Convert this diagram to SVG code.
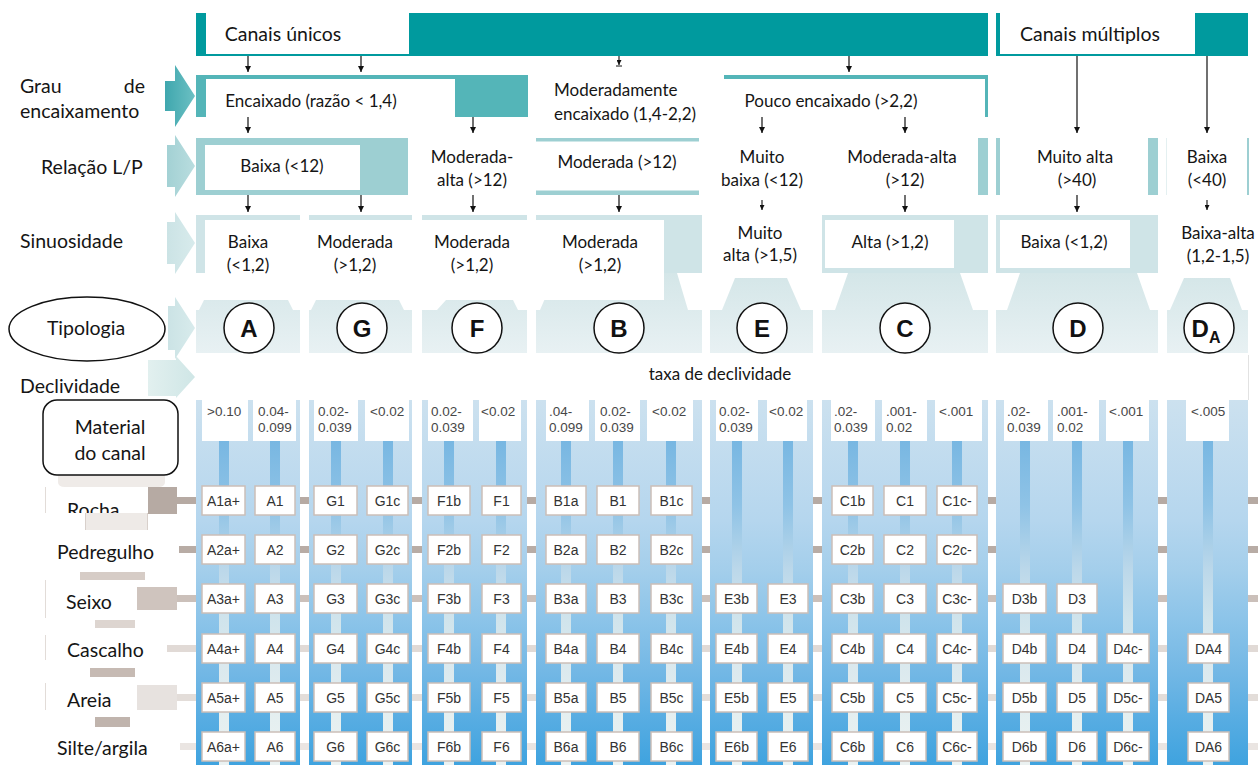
<svg xmlns="http://www.w3.org/2000/svg" width="1258" height="765" viewBox="0 0 1258 765">
<style>
  .t{font-family:Lato,"Liberation Sans",sans-serif;fill:#151515}
  .lbl{font-size:19.5px}
  .cell{font-size:17px}
  .mid{text-anchor:middle}
  .end{text-anchor:end}
  .teal{fill:#009a9e}
  .teal2{fill:#54b5b8}
  .teal3{fill:#9dcfd2}
  .band{fill:#cfe4e7}
  .wh{fill:#fff}
  .funnel{fill:url(#tipoGrad)}
  .panel{fill:url(#blueGrad)}
  .bar{fill:url(#barGrad)}
  .sb{fill:#fff}
  .slope{font-family:"Liberation Sans",Arial,sans-serif;font-size:13.5px;fill:#474747}
  .box{fill:#fff;stroke:#cbbfb8;stroke-width:1.5}
  .code{font-family:"Liberation Sans",Arial,sans-serif;font-size:14px;fill:#333;text-anchor:middle}
  .circ{fill:#fff;stroke:#111;stroke-width:1.5}
  .letter{font-family:"Liberation Sans",Arial,sans-serif;font-weight:bold;font-size:24px;fill:#111;text-anchor:middle}
  .arr{stroke:#111;stroke-width:1.2;fill:none;marker-end:url(#ah)}
  .arrs{stroke:#111;stroke-width:1.1;fill:none;marker-end:url(#ahs)}
  .mat{fill:#fff}
</style>
<defs>
  <marker id="ah" viewBox="0 0 10 10" refX="10" refY="5" markerUnits="userSpaceOnUse" markerWidth="7" markerHeight="6" orient="auto">
    <path d="M0,0 L10,5 L0,10 z" fill="#111"/>
  </marker>
  <marker id="ahs" viewBox="0 0 10 10" refX="10" refY="5" markerUnits="userSpaceOnUse" markerWidth="5" markerHeight="5" orient="auto">
    <path d="M0,0 L10,5 L0,10 z" fill="#111"/>
  </marker>
  <linearGradient id="blueGrad" gradientUnits="userSpaceOnUse" x1="0" y1="400" x2="0" y2="765">
    <stop offset="0" stop-color="#cce1ef"/>
    <stop offset="0.33" stop-color="#b5d6ee"/>
    <stop offset="0.47" stop-color="#a3ceeb"/>
    <stop offset="0.6" stop-color="#8cc4e9"/>
    <stop offset="0.74" stop-color="#74b8e5"/>
    <stop offset="0.88" stop-color="#56ace2"/>
    <stop offset="1" stop-color="#3fa3df"/>
  </linearGradient>
  <linearGradient id="barGrad" gradientUnits="userSpaceOnUse" x1="0" y1="441" x2="0" y2="765">
    <stop offset="0" stop-color="#78b7e2"/>
    <stop offset="0.2" stop-color="#8fc3e6"/>
    <stop offset="0.4" stop-color="#bcd8ea"/>
    <stop offset="0.55" stop-color="#d0e4ec"/>
    <stop offset="0.7" stop-color="#dbe9ee"/>
    <stop offset="0.86" stop-color="#e5eff0"/>
    <stop offset="1" stop-color="#ebf2f2"/>
  </linearGradient>
  <linearGradient id="tipoGrad" gradientUnits="userSpaceOnUse" x1="0" y1="273" x2="0" y2="353">
    <stop offset="0" stop-color="#d4e6e8"/>
    <stop offset="1" stop-color="#e8f1f3"/>
  </linearGradient>
  <linearGradient id="chev1" x1="0" y1="0" x2="1" y2="0">
    <stop offset="0" stop-color="#3fa7ae"/>
    <stop offset="1" stop-color="#6cc0c3"/>
  </linearGradient>
  <linearGradient id="chev2" x1="0" y1="0" x2="1" y2="0">
    <stop offset="0" stop-color="#a3d1d4"/>
    <stop offset="1" stop-color="#b9dddf"/>
  </linearGradient>
  <linearGradient id="chev3" x1="0" y1="0" x2="1" y2="0">
    <stop offset="0" stop-color="#cbe3e5"/>
    <stop offset="1" stop-color="#d8ebec"/>
  </linearGradient>
  <linearGradient id="chev4" x1="0" y1="0" x2="1" y2="0">
    <stop offset="0" stop-color="#e2f0ef"/>
    <stop offset="1" stop-color="#cfe6e6"/>
  </linearGradient>
  <clipPath id="clipRocha"><rect x="40" y="480" width="140" height="33"/></clipPath>
  <clipPath id="clipPedr"><rect x="40" y="530" width="145" height="32"/></clipPath>
</defs>

<rect x="0" y="0" width="1258" height="765" fill="#fff"/>

<!-- material rows: horizontal connectors running behind the columns -->
<g id="connectors">
  <rect x="177" y="497" width="1081" height="7" fill="#b6aaa3"/>
  <rect x="179" y="546" width="1079" height="7" fill="#b8aca5"/>
  <rect x="177" y="595" width="1081" height="7" fill="#cbc0ba"/>
  <rect x="167" y="645" width="1091" height="7" fill="#e1dad6"/>
  <rect x="177" y="694" width="1081" height="7" fill="#e3ddd9"/>
  <rect x="180" y="743" width="1078" height="7" fill="#eae5e2"/>
</g>

<!-- sinuosity bands and typology funnels -->
<g id="bands">
  <rect class="band" x="196" y="215" width="104" height="58"/>
  <rect class="band" x="309" y="215" width="103" height="58"/>
  <rect class="band" x="422" y="215" width="105" height="58"/>
  <rect class="band" x="536" y="215" width="166" height="58"/>
  <rect class="band" x="822" y="215" width="166" height="58"/>
  <rect class="band" x="996" y="215" width="162" height="58"/>
  <polygon class="funnel" points="196,353 196,310 199,310 204,300 288,300 293,310 300,310 300,353"/>
  <polygon class="funnel" points="309,353 309,310 311,310 316,300 399,300 404,310 412,310 412,353"/>
  <polygon class="funnel" points="422,353 422,310 437,310 446,300 513,300 518,310 527,310 527,353"/>
  <polygon class="funnel" points="536,353 536,310 540,310 556,273 677,273 688,310 702,310 702,353"/>
  <polygon class="funnel" points="710,353 710,310 722,310 735,278 787,278 801,310 813,310 813,353"/>
  <polygon class="funnel" points="822,353 822,310 835,310 848,273 960,273 973,310 988,310 988,353"/>
  <polygon class="funnel" points="996,353 996,310 1007,310 1020,273 1137,273 1150,310 1158,310 1158,353"/>
  <polygon class="funnel" points="1167,353 1167,310 1170,310 1184,278 1230,278 1242,310 1248,310 1248,353"/>
</g>

<!-- sinuosity cells -->
<g id="sinuosidade">
  <rect class="wh" x="205" y="220" width="459" height="80"/>
  <rect class="wh" x="825" y="220" width="129" height="48"/>
  <rect class="wh" x="1000" y="220" width="130" height="48"/>
  <text class="t cell mid" x="248" y="248">Baixa</text>
  <text class="t cell mid" x="248" y="271">(&lt;1,2)</text>
  <text class="t cell mid" x="355" y="248">Moderada</text>
  <text class="t cell mid" x="355" y="271">(&gt;1,2)</text>
  <text class="t cell mid" x="472" y="248">Moderada</text>
  <text class="t cell mid" x="472" y="271">(&gt;1,2)</text>
  <text class="t cell mid" x="600" y="248">Moderada</text>
  <text class="t cell mid" x="600" y="271">(&gt;1,2)</text>
  <text class="t cell mid" x="760" y="239">Muito</text>
  <text class="t cell mid" x="760" y="261">alta (&gt;1,5)</text>
  <text class="t cell mid" x="890" y="248">Alta (&gt;1,2)</text>
  <text class="t cell mid" x="1064" y="248">Baixa (&lt;1,2)</text>
  <text class="t cell mid" x="1218" y="239">Baixa-alta</text>
  <text class="t cell mid" x="1218" y="262">(1,2-1,5)</text>
</g>

<!-- header: channel type -->
<g id="canais-unicos">
  <rect class="teal" x="196" y="13" width="792" height="43"/>
  <rect class="wh" x="206" y="13" width="203" height="41"/>
  <text class="t mid" x="283" y="41" font-size="19.5">Canais únicos</text>
</g>
<g id="canais-multiplos">
  <rect class="teal" x="996" y="13" width="252" height="43"/>
  <rect class="wh" x="1000" y="13" width="195" height="41"/>
  <text class="t mid" x="1090" y="41" font-size="19.5">Canais múltiplos</text>
</g>

<!-- entrenchment -->
<g id="encaixado">
  <rect class="teal2" x="196" y="75" width="332" height="42"/>
  <rect class="wh" x="206" y="79" width="249" height="38"/>
  <text class="t cell mid" x="311" y="107">Encaixado (razão &lt; 1,4)</text>
</g>
<g id="moderadamente-encaixado">
  <text class="t cell" x="554" y="96">Moderadamente</text>
  <text class="t cell" x="554" y="120">encaixado (1,4-2,2)</text>
</g>
<g id="pouco-encaixado">
  <rect class="teal2" x="724" y="75" width="264" height="4"/>
  <rect class="teal2" x="985" y="75" width="3" height="42"/>
  <text class="t cell mid" x="831" y="107">Pouco encaixado (&gt;2,2)</text>
</g>

<!-- width/depth ratio -->
<g id="lp-baixa">
  <rect class="teal3" x="196" y="138" width="212" height="57"/>
  <rect class="wh" x="205" y="145" width="155" height="45"/>
  <text class="t cell mid" x="282" y="172">Baixa (&lt;12)</text>
</g>
<g id="lp-moderada-alta-f">
  <text class="t cell mid" x="472" y="163">Moderada-</text>
  <text class="t cell mid" x="472" y="186">alta (&gt;12)</text>
</g>
<g id="lp-moderada">
  <rect class="teal3" x="536" y="138" width="163" height="3.5"/>
  <rect class="teal3" x="536" y="190.5" width="163" height="4.5"/>
  <text class="t cell mid" x="617" y="168">Moderada (&gt;12)</text>
</g>
<g id="lp-muito-baixa">
  <text class="t cell mid" x="762" y="163">Muito</text>
  <text class="t cell mid" x="762" y="186">baixa (&lt;12)</text>
</g>
<g id="lp-moderada-alta-c">
  <rect class="teal3" x="978" y="138" width="10" height="57"/>
  <text class="t cell mid" x="902" y="163">Moderada-alta</text>
  <text class="t cell mid" x="905" y="186">(&gt;12)</text>
</g>
<g id="lp-muito-alta">
  <rect class="teal3" x="996" y="138" width="4" height="57"/>
  <rect class="teal3" x="1148" y="138" width="10" height="57"/>
  <text class="t cell mid" x="1075" y="163">Muito alta</text>
  <text class="t cell mid" x="1077" y="186">(&gt;40)</text>
</g>
<g id="lp-baixa-da">
  <rect x="1166" y="138" width="1" height="57" fill="#e4f0f1"/>
  <rect class="teal3" x="1247" y="138" width="2" height="57"/>
  <text class="t cell mid" x="1207" y="163">Baixa</text>
  <text class="t cell mid" x="1207" y="186">(&lt;40)</text>
</g>

<!-- flow arrows -->
<g id="arrows">
  <line class="arr" x1="248" y1="56" x2="248" y2="72"/>
  <line class="arr" x1="361" y1="56" x2="361" y2="72"/>
  <line class="arrs" x1="619" y1="56" x2="619" y2="65"/>
  <line x1="616" y1="66" x2="622" y2="66" stroke="#111" stroke-width="1"/>
  <line class="arr" x1="849" y1="56" x2="849" y2="72"/>
  <line class="arr" x1="1077" y1="56" x2="1077" y2="133"/>
  <line class="arr" x1="1207" y1="56" x2="1207" y2="133"/>
  <line class="arr" x1="248" y1="117" x2="248" y2="133"/>
  <line class="arr" x1="473" y1="117" x2="473" y2="133"/>
  <line class="arr" x1="762" y1="117" x2="762" y2="133"/>
  <line class="arr" x1="905" y1="117" x2="905" y2="133"/>
  <line class="arr" x1="248" y1="195" x2="248" y2="212"/>
  <line class="arr" x1="361" y1="195" x2="361" y2="212"/>
  <line class="arr" x1="473" y1="195" x2="473" y2="212"/>
  <line class="arr" x1="619" y1="195" x2="619" y2="212"/>
  <line class="arrs" x1="762" y1="200" x2="762" y2="210"/>
  <line class="arr" x1="905" y1="195" x2="905" y2="212"/>
  <line class="arr" x1="1077" y1="195" x2="1077" y2="212"/>
  <line class="arrs" x1="1207" y1="200" x2="1207" y2="210"/>
</g>

<!-- typology circles -->
<g id="tipo-A"><circle class="circ" cx="249" cy="328" r="25"/><text class="letter" x="249" y="337">A</text></g>
<g id="tipo-G"><circle class="circ" cx="362" cy="328" r="25"/><text class="letter" x="362" y="337">G</text></g>
<g id="tipo-F"><circle class="circ" cx="477" cy="328" r="25"/><text class="letter" x="477" y="337">F</text></g>
<g id="tipo-B"><circle class="circ" cx="619" cy="328" r="25"/><text class="letter" x="619" y="337">B</text></g>
<g id="tipo-E"><circle class="circ" cx="762" cy="328" r="25"/><text class="letter" x="762" y="337">E</text></g>
<g id="tipo-C"><circle class="circ" cx="905" cy="328" r="25"/><text class="letter" x="905" y="337">C</text></g>
<g id="tipo-D"><circle class="circ" cx="1078" cy="328" r="25"/><text class="letter" x="1078" y="337">D</text></g>
<g id="tipo-DA"><circle class="circ" cx="1209" cy="328" r="25"/><text class="letter" x="1206" y="337">D<tspan font-size="16" dy="6">A</tspan></text></g>

<!-- slope row -->
<g id="declividade">
  <line x1="1248.5" y1="355" x2="1248.5" y2="400" stroke="#e2e2e2" stroke-width="1"/>
  <text class="t mid" x="720" y="380" font-size="17">taxa de declividade</text>
</g>

<!-- stream type columns -->
<g id="col-A">
  <rect class="panel" x="196" y="400" width="104" height="365"/>
  <rect class="bar" x="219" y="441" width="10" height="324"/>
  <rect class="bar" x="270" y="441" width="10" height="324"/>
  <rect class="sb" x="202" y="400" width="46" height="41"/>
  <rect class="sb" x="253" y="400" width="43" height="41"/>
  <text class="slope" x="207" y="416">&gt;0.10</text>
  <text class="slope" x="258" y="416">0.04-</text><text class="slope" x="258" y="432">0.099</text>
  <rect class="box" x="202" y="486" width="43" height="29"/><text class="code" x="223.5" y="505.5">A1a+</text>
  <rect class="box" x="255" y="486" width="40" height="29"/><text class="code" x="275" y="505.5">A1</text>
  <rect class="box" x="202" y="535" width="43" height="29"/><text class="code" x="223.5" y="554.5">A2a+</text>
  <rect class="box" x="255" y="535" width="40" height="29"/><text class="code" x="275" y="554.5">A2</text>
  <rect class="box" x="202" y="584" width="43" height="29"/><text class="code" x="223.5" y="603.5">A3a+</text>
  <rect class="box" x="255" y="584" width="40" height="29"/><text class="code" x="275" y="603.5">A3</text>
  <rect class="box" x="202" y="634" width="43" height="29"/><text class="code" x="223.5" y="653.5">A4a+</text>
  <rect class="box" x="255" y="634" width="40" height="29"/><text class="code" x="275" y="653.5">A4</text>
  <rect class="box" x="202" y="683" width="43" height="29"/><text class="code" x="223.5" y="702.5">A5a+</text>
  <rect class="box" x="255" y="683" width="40" height="29"/><text class="code" x="275" y="702.5">A5</text>
  <rect class="box" x="202" y="732" width="43" height="29"/><text class="code" x="223.5" y="751.5">A6a+</text>
  <rect class="box" x="255" y="732" width="40" height="29"/><text class="code" x="275" y="751.5">A6</text>
</g>

<g id="col-G">
  <rect class="panel" x="309" y="400" width="103" height="365"/>
  <rect class="bar" x="331" y="441" width="10" height="324"/>
  <rect class="bar" x="383" y="441" width="10" height="324"/>
  <rect class="sb" x="314" y="400" width="44" height="41"/>
  <rect class="sb" x="365" y="400" width="44" height="41"/>
  <text class="slope" x="318" y="416">0.02-</text><text class="slope" x="318" y="432">0.039</text>
  <text class="slope" x="370" y="416">&lt;0.02</text>
  <rect class="box" x="314" y="486" width="43" height="29"/><text class="code" x="335.5" y="505.5">G1</text>
  <rect class="box" x="367" y="486" width="41" height="29"/><text class="code" x="387.5" y="505.5">G1c</text>
  <rect class="box" x="314" y="535" width="43" height="29"/><text class="code" x="335.5" y="554.5">G2</text>
  <rect class="box" x="367" y="535" width="41" height="29"/><text class="code" x="387.5" y="554.5">G2c</text>
  <rect class="box" x="314" y="584" width="43" height="29"/><text class="code" x="335.5" y="603.5">G3</text>
  <rect class="box" x="367" y="584" width="41" height="29"/><text class="code" x="387.5" y="603.5">G3c</text>
  <rect class="box" x="314" y="634" width="43" height="29"/><text class="code" x="335.5" y="653.5">G4</text>
  <rect class="box" x="367" y="634" width="41" height="29"/><text class="code" x="387.5" y="653.5">G4c</text>
  <rect class="box" x="314" y="683" width="43" height="29"/><text class="code" x="335.5" y="702.5">G5</text>
  <rect class="box" x="367" y="683" width="41" height="29"/><text class="code" x="387.5" y="702.5">G5c</text>
  <rect class="box" x="314" y="732" width="43" height="29"/><text class="code" x="335.5" y="751.5">G6</text>
  <rect class="box" x="367" y="732" width="41" height="29"/><text class="code" x="387.5" y="751.5">G6c</text>
</g>

<g id="col-F">
  <rect class="panel" x="422" y="400" width="105" height="365"/>
  <rect class="bar" x="444" y="441" width="10" height="324"/>
  <rect class="bar" x="496" y="441" width="10" height="324"/>
  <rect class="sb" x="428" y="400" width="45" height="41"/>
  <rect class="sb" x="479" y="400" width="42" height="41"/>
  <text class="slope" x="431" y="416">0.02-</text><text class="slope" x="431" y="432">0.039</text>
  <text class="slope" x="481" y="416">&lt;0.02</text>
  <rect class="box" x="428" y="486" width="42" height="29"/><text class="code" x="449" y="505.5">F1b</text>
  <rect class="box" x="482" y="486" width="39" height="29"/><text class="code" x="501.5" y="505.5">F1</text>
  <rect class="box" x="428" y="535" width="42" height="29"/><text class="code" x="449" y="554.5">F2b</text>
  <rect class="box" x="482" y="535" width="39" height="29"/><text class="code" x="501.5" y="554.5">F2</text>
  <rect class="box" x="428" y="584" width="42" height="29"/><text class="code" x="449" y="603.5">F3b</text>
  <rect class="box" x="482" y="584" width="39" height="29"/><text class="code" x="501.5" y="603.5">F3</text>
  <rect class="box" x="428" y="634" width="42" height="29"/><text class="code" x="449" y="653.5">F4b</text>
  <rect class="box" x="482" y="634" width="39" height="29"/><text class="code" x="501.5" y="653.5">F4</text>
  <rect class="box" x="428" y="683" width="42" height="29"/><text class="code" x="449" y="702.5">F5b</text>
  <rect class="box" x="482" y="683" width="39" height="29"/><text class="code" x="501.5" y="702.5">F5</text>
  <rect class="box" x="428" y="732" width="42" height="29"/><text class="code" x="449" y="751.5">F6b</text>
  <rect class="box" x="482" y="732" width="39" height="29"/><text class="code" x="501.5" y="751.5">F6</text>
</g>

<g id="col-B">
  <rect class="panel" x="536" y="400" width="166" height="365"/>
  <rect class="bar" x="561" y="441" width="10" height="324"/>
  <rect class="bar" x="613" y="441" width="10" height="324"/>
  <rect class="bar" x="666" y="441" width="10" height="324"/>
  <rect class="sb" x="546" y="400" width="43" height="41"/>
  <rect class="sb" x="595" y="400" width="45" height="41"/>
  <rect class="sb" x="647" y="400" width="46" height="41"/>
  <text class="slope" x="549" y="416">.04-</text><text class="slope" x="549" y="432">0.099</text>
  <text class="slope" x="600" y="416">0.02-</text><text class="slope" x="600" y="432">0.039</text>
  <text class="slope" x="652" y="416">&lt;0.02</text>
  <rect class="box" x="546" y="486" width="40" height="29"/><text class="code" x="566" y="505.5">B1a</text>
  <rect class="box" x="597" y="486" width="42" height="29"/><text class="code" x="618" y="505.5">B1</text>
  <rect class="box" x="651" y="486" width="41" height="29"/><text class="code" x="671.5" y="505.5">B1c</text>
  <rect class="box" x="546" y="535" width="40" height="29"/><text class="code" x="566" y="554.5">B2a</text>
  <rect class="box" x="597" y="535" width="42" height="29"/><text class="code" x="618" y="554.5">B2</text>
  <rect class="box" x="651" y="535" width="41" height="29"/><text class="code" x="671.5" y="554.5">B2c</text>
  <rect class="box" x="546" y="584" width="40" height="29"/><text class="code" x="566" y="603.5">B3a</text>
  <rect class="box" x="597" y="584" width="42" height="29"/><text class="code" x="618" y="603.5">B3</text>
  <rect class="box" x="651" y="584" width="41" height="29"/><text class="code" x="671.5" y="603.5">B3c</text>
  <rect class="box" x="546" y="634" width="40" height="29"/><text class="code" x="566" y="653.5">B4a</text>
  <rect class="box" x="597" y="634" width="42" height="29"/><text class="code" x="618" y="653.5">B4</text>
  <rect class="box" x="651" y="634" width="41" height="29"/><text class="code" x="671.5" y="653.5">B4c</text>
  <rect class="box" x="546" y="683" width="40" height="29"/><text class="code" x="566" y="702.5">B5a</text>
  <rect class="box" x="597" y="683" width="42" height="29"/><text class="code" x="618" y="702.5">B5</text>
  <rect class="box" x="651" y="683" width="41" height="29"/><text class="code" x="671.5" y="702.5">B5c</text>
  <rect class="box" x="546" y="732" width="40" height="29"/><text class="code" x="566" y="751.5">B6a</text>
  <rect class="box" x="597" y="732" width="42" height="29"/><text class="code" x="618" y="751.5">B6</text>
  <rect class="box" x="651" y="732" width="41" height="29"/><text class="code" x="671.5" y="751.5">B6c</text>
</g>

<g id="col-E">
  <rect class="panel" x="710" y="400" width="103" height="365"/>
  <rect class="bar" x="732" y="441" width="10" height="324"/>
  <rect class="bar" x="783" y="441" width="10" height="324"/>
  <rect class="sb" x="716" y="400" width="42" height="41"/>
  <rect class="sb" x="767" y="400" width="40" height="41"/>
  <text class="slope" x="719" y="416">0.02-</text><text class="slope" x="719" y="432">0.039</text>
  <text class="slope" x="769" y="416">&lt;0.02</text>
  <rect class="box" x="716" y="584" width="41" height="29"/><text class="code" x="736.5" y="603.5">E3b</text>
  <rect class="box" x="768" y="584" width="40" height="29"/><text class="code" x="788" y="603.5">E3</text>
  <rect class="box" x="716" y="634" width="41" height="29"/><text class="code" x="736.5" y="653.5">E4b</text>
  <rect class="box" x="768" y="634" width="40" height="29"/><text class="code" x="788" y="653.5">E4</text>
  <rect class="box" x="716" y="683" width="41" height="29"/><text class="code" x="736.5" y="702.5">E5b</text>
  <rect class="box" x="768" y="683" width="40" height="29"/><text class="code" x="788" y="702.5">E5</text>
  <rect class="box" x="716" y="732" width="41" height="29"/><text class="code" x="736.5" y="751.5">E6b</text>
  <rect class="box" x="768" y="732" width="40" height="29"/><text class="code" x="788" y="751.5">E6</text>
</g>

<g id="col-C">
  <rect class="panel" x="822" y="400" width="166" height="365"/>
  <rect class="bar" x="848" y="441" width="10" height="324"/>
  <rect class="bar" x="900" y="441" width="10" height="324"/>
  <rect class="bar" x="952" y="441" width="10" height="324"/>
  <rect class="sb" x="831" y="400" width="44" height="41"/>
  <rect class="sb" x="882" y="400" width="45" height="41"/>
  <rect class="sb" x="935" y="400" width="47" height="41"/>
  <text class="slope" x="834" y="416">.02-</text><text class="slope" x="834" y="432">0.039</text>
  <text class="slope" x="886" y="416">.001-</text><text class="slope" x="886" y="432">0.02</text>
  <text class="slope" x="939" y="416">&lt;.001</text>
  <rect class="box" x="832" y="486" width="41" height="29"/><text class="code" x="852.5" y="505.5">C1b</text>
  <rect class="box" x="884" y="486" width="42" height="29"/><text class="code" x="905" y="505.5">C1</text>
  <rect class="box" x="937" y="486" width="40" height="29"/><text class="code" x="957" y="505.5">C1c-</text>
  <rect class="box" x="832" y="535" width="41" height="29"/><text class="code" x="852.5" y="554.5">C2b</text>
  <rect class="box" x="884" y="535" width="42" height="29"/><text class="code" x="905" y="554.5">C2</text>
  <rect class="box" x="937" y="535" width="40" height="29"/><text class="code" x="957" y="554.5">C2c-</text>
  <rect class="box" x="832" y="584" width="41" height="29"/><text class="code" x="852.5" y="603.5">C3b</text>
  <rect class="box" x="884" y="584" width="42" height="29"/><text class="code" x="905" y="603.5">C3</text>
  <rect class="box" x="937" y="584" width="40" height="29"/><text class="code" x="957" y="603.5">C3c-</text>
  <rect class="box" x="832" y="634" width="41" height="29"/><text class="code" x="852.5" y="653.5">C4b</text>
  <rect class="box" x="884" y="634" width="42" height="29"/><text class="code" x="905" y="653.5">C4</text>
  <rect class="box" x="937" y="634" width="40" height="29"/><text class="code" x="957" y="653.5">C4c-</text>
  <rect class="box" x="832" y="683" width="41" height="29"/><text class="code" x="852.5" y="702.5">C5b</text>
  <rect class="box" x="884" y="683" width="42" height="29"/><text class="code" x="905" y="702.5">C5</text>
  <rect class="box" x="937" y="683" width="40" height="29"/><text class="code" x="957" y="702.5">C5c-</text>
  <rect class="box" x="832" y="732" width="41" height="29"/><text class="code" x="852.5" y="751.5">C6b</text>
  <rect class="box" x="884" y="732" width="42" height="29"/><text class="code" x="905" y="751.5">C6</text>
  <rect class="box" x="937" y="732" width="40" height="29"/><text class="code" x="957" y="751.5">C6c-</text>
</g>

<g id="col-D">
  <rect class="panel" x="996" y="400" width="162" height="365"/>
  <rect class="bar" x="1020" y="441" width="10" height="324"/>
  <rect class="bar" x="1072" y="441" width="10" height="324"/>
  <rect class="bar" x="1123" y="441" width="10" height="324"/>
  <rect class="sb" x="1004" y="400" width="44" height="41"/>
  <rect class="sb" x="1053" y="400" width="46" height="41"/>
  <rect class="sb" x="1106" y="400" width="43" height="41"/>
  <text class="slope" x="1007" y="416">.02-</text><text class="slope" x="1007" y="432">0.039</text>
  <text class="slope" x="1057" y="416">.001-</text><text class="slope" x="1057" y="432">0.02</text>
  <text class="slope" x="1109" y="416">&lt;.001</text>
  <rect class="box" x="1003" y="584" width="43" height="29"/><text class="code" x="1024.5" y="603.5">D3b</text>
  <rect class="box" x="1057" y="584" width="40" height="29"/><text class="code" x="1077" y="603.5">D3</text>
  <rect class="box" x="1003" y="634" width="43" height="29"/><text class="code" x="1024.5" y="653.5">D4b</text>
  <rect class="box" x="1057" y="634" width="40" height="29"/><text class="code" x="1077" y="653.5">D4</text>
  <rect class="box" x="1107" y="634" width="42" height="29"/><text class="code" x="1128" y="653.5">D4c-</text>
  <rect class="box" x="1003" y="683" width="43" height="29"/><text class="code" x="1024.5" y="702.5">D5b</text>
  <rect class="box" x="1057" y="683" width="40" height="29"/><text class="code" x="1077" y="702.5">D5</text>
  <rect class="box" x="1107" y="683" width="42" height="29"/><text class="code" x="1128" y="702.5">D5c-</text>
  <rect class="box" x="1003" y="732" width="43" height="29"/><text class="code" x="1024.5" y="751.5">D6b</text>
  <rect class="box" x="1057" y="732" width="40" height="29"/><text class="code" x="1077" y="751.5">D6</text>
  <rect class="box" x="1107" y="732" width="42" height="29"/><text class="code" x="1128" y="751.5">D6c-</text>
</g>

<g id="col-DA">
  <rect class="panel" x="1167" y="400" width="81" height="365"/>
  <rect class="bar" x="1203" y="441" width="10" height="324"/>
  <rect class="sb" x="1186" y="400" width="43" height="41"/>
  <text class="slope" x="1191" y="416">&lt;.005</text>
  <rect class="box" x="1188" y="634" width="41" height="29"/><text class="code" x="1208.5" y="653.5">DA4</text>
  <rect class="box" x="1188" y="683" width="41" height="29"/><text class="code" x="1208.5" y="702.5">DA5</text>
  <rect class="box" x="1188" y="732" width="41" height="29"/><text class="code" x="1208.5" y="751.5">DA6</text>
</g>

<!-- row headings on the left -->
<g id="row-grau">
  <path d="M165,81 H175 V65 L195,96 L175,127 V111 H165 Z" fill="url(#chev1)"/>
  <text class="t lbl" x="20" y="93">Grau</text>
  <text class="t lbl end" x="145" y="93">de</text>
  <text class="t lbl" x="20" y="118">encaixamento</text>
</g>
<g id="row-lp">
  <path d="M167,145 H175 V135 L195,166 L175,197 V187 H167 Z" fill="url(#chev2)"/>
  <text class="t lbl" x="41" y="174">Relação L/P</text>
</g>
<g id="row-sinuosidade">
  <path d="M167,222 H175 V212 L195,243 L175,274 V264 H167 Z" fill="url(#chev3)"/>
  <text class="t lbl" x="20" y="248">Sinuosidade</text>
</g>
<g id="row-tipologia">
  <path d="M168,306 H175 V297 L195,328 L175,359 V350 H168 Z" fill="url(#chev3)"/>
  <ellipse cx="87" cy="329" rx="78" ry="32" fill="#fff" stroke="#111" stroke-width="1.5"/>
  <text class="t lbl mid" x="86" y="335">Tipologia</text>
</g>
<g id="row-declividade">
  <path d="M148,360 H176 V356 L195,377 L176,398 V396 H148 Z" fill="url(#chev4)"/>
  <text class="t lbl" x="20" y="393">Declividade</text>
</g>

<!-- channel material labels -->
<g id="row-material">
  <path d="M58,474 H165 V482 Q165,487 158,487 H65 Q58,487 58,482 Z" fill="#efebe8"/>
  <rect x="43" y="400" width="135" height="75" rx="14" ry="14" fill="#fff" stroke="#111" stroke-width="1.5"/>
  <text class="t lbl mid" x="110" y="434">Material</text>
  <text class="t lbl mid" x="110" y="460">do canal</text>

  <rect x="148" y="487" width="29" height="27" fill="#b6aaa3"/>
  <rect class="mat" x="45" y="487" width="103" height="26"/>
  <line x1="45.5" y1="487" x2="45.5" y2="513" stroke="#e2dcd8"/>
  <text class="t lbl" x="67" y="517" clip-path="url(#clipRocha)">Rocha</text>
  <rect x="85" y="513" width="63" height="17" fill="#eeeae7"/>
  <line x1="85.5" y1="513" x2="85.5" y2="530" stroke="#d8d0cb"/>
  <line x1="147.5" y1="513" x2="147.5" y2="530" stroke="#d8d0cb"/>

  <text class="t lbl" x="57" y="559" clip-path="url(#clipPedr)">Pedregulho</text>
  <rect x="80" y="572" width="65" height="8" fill="#d6ccc6"/>

  <rect x="137" y="587" width="40" height="23" fill="#cfc4be"/>
  <rect class="mat" x="45" y="580" width="92" height="38"/>
  <line x1="45.5" y1="580" x2="45.5" y2="618" stroke="#e2dcd8"/>
  <text class="t lbl" x="66" y="609">Seixo</text>
  <rect x="95" y="620" width="40" height="8" fill="#ddd5d0"/>

  <rect class="mat" x="45" y="635" width="122" height="25"/>
  <line x1="45.5" y1="635" x2="45.5" y2="660" stroke="#e2dcd8"/>
  <text class="t lbl" x="67" y="657">Cascalho</text>
  <rect x="90" y="668" width="45" height="9" fill="#c6bab3"/>

  <rect x="137" y="685" width="40" height="25" fill="#e7e2df"/>
  <rect class="mat" x="45" y="683" width="92" height="27"/>
  <line x1="45.5" y1="683" x2="45.5" y2="710" stroke="#e2dcd8"/>
  <text class="t lbl" x="67" y="707">Areia</text>
  <rect x="95" y="717" width="35" height="10" fill="#c0b4ad"/>

  <text class="t lbl" x="57" y="755">Silte/argila</text>
</g>
</svg>
